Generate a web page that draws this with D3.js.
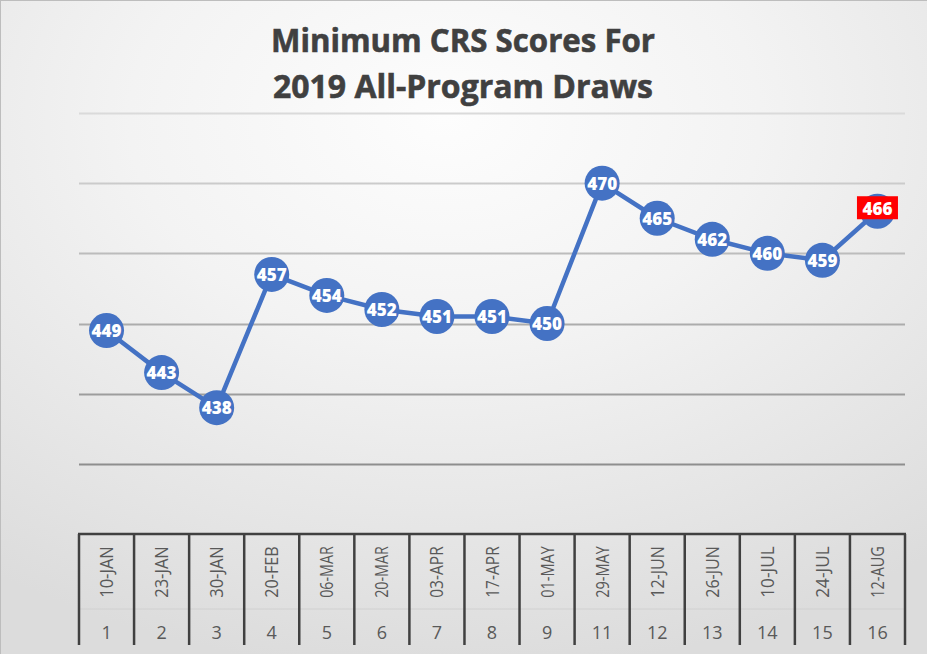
<!DOCTYPE html>
<html>
<head>
<meta charset="utf-8">
<script src="https://cdn.jsdelivr.net/npm/d3@7"></script>
<style>
  html, body { margin: 0; padding: 0; background: #fff; }
  svg { display: block; }
</style>
</head>
<body>
<svg id="chart" width="927" height="654"></svg>
<script>
// ---- data ----
const dates = ["10-JAN","23-JAN","30-JAN","20-FEB","06-MAR","20-MAR","03-APR","17-APR","01-MAY","29-MAY","12-JUN","26-JUN","10-JUL","24-JUL","12-AUG"];
const drawNumbers = ["1","2","3","4","5","6","7","8","9","11","12","13","14","15","16"];
const scores = [449,443,438,457,454,452,451,451,450,470,465,462,460,459,466];
const gridValues = [430,440,450,460,470,480];
const titleLines = ["Minimum CRS Scores For", "2019 All-Program Draws"];

const W = 927, H = 654;
const svg = d3.select("#chart");
const defs = svg.append("defs");

const grad = defs.append("radialGradient").attr("id","bg")
  .attr("cx","48%").attr("cy","18%").attr("r","85%")
  .attr("fx","48%").attr("fy","18%");
grad.append("stop").attr("offset","0%").attr("stop-color","#fdfdfd");
grad.append("stop").attr("offset","40%").attr("stop-color","#f3f3f3");
grad.append("stop").attr("offset","100%").attr("stop-color","#dcdcdc");

svg.append("rect").attr("width",W).attr("height",H).attr("fill","url(#bg)");
// frame (top + left)
svg.append("line").attr("x1",0).attr("x2",W).attr("y1",0.5).attr("y2",0.5).attr("stroke","#bdbdbd");
svg.append("line").attr("x1",0.5).attr("x2",0.5).attr("y1",0).attr("y2",H).attr("stroke","#bdbdbd");

// ---- scales ----
const x = d3.scaleBand().domain(d3.range(dates.length)).range([79, 905]);
const y = d3.scaleLinear().domain([420, 480]).range([534, 113]);
const cx = i => x(i) + x.bandwidth()/2;

// ---- title ----
const title = svg.append("g");
titleLines.forEach((t, i) => {
  title.append("text")
    .attr("x", 463).attr("y", 52 + i*46)
    .attr("text-anchor","middle")
    .attr("font-family","'Open Sans', sans-serif")
    .attr("font-weight","bold")
    .attr("font-size", 33)
    .attr("fill","#404040")
    .attr("stroke","#404040").attr("stroke-width",0.6)
    .attr("textLength", i === 0 ? 384 : 380)
    .attr("lengthAdjust","spacingAndGlyphs")
    .text(t);
});

// ---- gridlines ----
const gridColors = d3.scaleLinear().domain([430,480]).range(["#8e8e8e","#dadada"]);
svg.append("g").selectAll("line").data(gridValues).join("line")
  .attr("x1", 79).attr("x2", 905)
  .attr("y1", d => Math.round(y(d)) + 0.5).attr("y2", d => Math.round(y(d)) + 0.5)
  .attr("stroke", d => gridColors(d))
  .attr("stroke-width", 2);

// ---- category axis (multi-level table style) ----
const axisG = svg.append("g");
const axisTop = 534, sepY = 609, axisBottom = 645;
axisG.append("line").attr("x1",79).attr("x2",905).attr("y1",sepY).attr("y2",sepY)
  .attr("stroke","#d0d0d0").attr("stroke-width",1);
axisG.append("line").attr("x1",78).attr("x2",906).attr("y1",axisTop).attr("y2",axisTop)
  .attr("stroke","#404040").attr("stroke-width",2.5);
const bounds = d3.range(dates.length + 1).map(i => i < dates.length ? x(i) : x(dates.length-1) + x.bandwidth());
axisG.selectAll("line.div").data(bounds).join("line").attr("class","div")
  .attr("x1", d => d).attr("x2", d => d)
  .attr("y1", axisTop).attr("y2", axisBottom)
  .attr("stroke","#404040").attr("stroke-width",2.5);

axisG.selectAll("text.date").data(dates).join("text").attr("class","date")
  .attr("transform", (d,i) => `translate(${cx(i)+6.5},572) rotate(-90)`)
  .attr("text-anchor","middle")
  .attr("font-family","'Open Sans', sans-serif")
  .attr("font-size",17.5)
  .attr("fill","#595959")
  .attr("textLength",(d) => d.length * 8.6)
  .attr("lengthAdjust","spacingAndGlyphs")
  .text(d => d);

axisG.selectAll("text.num").data(drawNumbers).join("text").attr("class","num")
  .attr("x", (d,i) => cx(i)).attr("y", 639)
  .attr("text-anchor","middle")
  .attr("font-family","'Open Sans', sans-serif")
  .attr("font-size",18)
  .attr("fill","#595959")
  .text(d => d);

// ---- line ----
const line = d3.line().x((d,i) => cx(i)).y(d => y(d));
svg.append("path").datum(scores)
  .attr("d", line)
  .attr("fill","none")
  .attr("stroke","#4472C4")
  .attr("stroke-width",4.5)
  .attr("stroke-linejoin","round");

// ---- markers ----
svg.append("g").selectAll("circle").data(scores).join("circle")
  .attr("cx", (d,i) => cx(i)).attr("cy", d => y(d))
  .attr("r", 17.5)
  .attr("fill","#4472C4");

// ---- labels ----
const last = scores.length - 1;
svg.append("rect")
  .attr("x", cx(last) - 20.5).attr("y", y(scores[last]) - 15)
  .attr("width", 41).attr("height", 23)
  .attr("fill","#ff0000");

svg.append("g").selectAll("text").data(scores).join("text")
  .attr("x", (d,i) => cx(i)).attr("y", (d,i) => y(d) + (i === last ? 3.5 : 6.5))
  .attr("text-anchor","middle")
  .attr("font-family","'Open Sans', sans-serif")
  .attr("font-weight","800")
  .attr("font-size",18)
  .attr("fill","#ffffff")
  .attr("textLength", 30)
  .attr("lengthAdjust","spacingAndGlyphs")
  .text(d => d);
</script>
</body>
</html>
